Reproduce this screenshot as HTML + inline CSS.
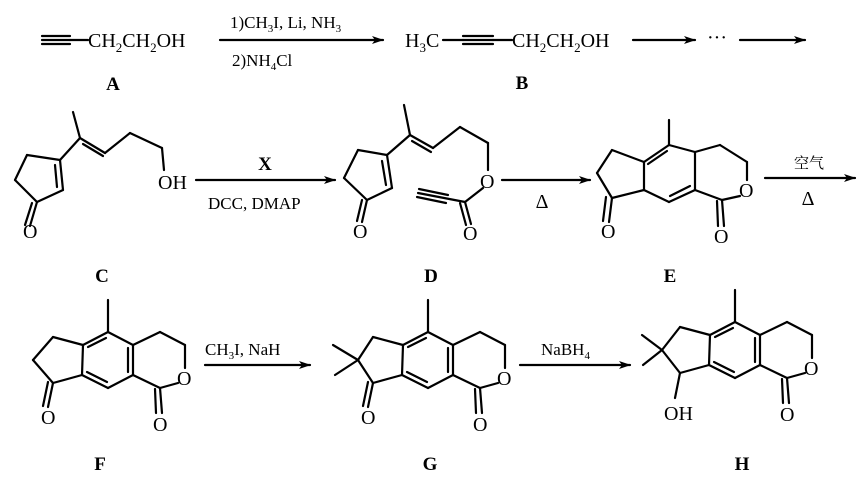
<!DOCTYPE html>
<html><head><meta charset="utf-8"><style>
body{margin:0;background:#fff}
svg{display:block}
text{font-family:"Liberation Serif","Noto Serif CJK SC",serif;fill:#000}
</style></head><body>
<svg width="864" height="478" viewBox="0 0 864 478" xmlns="http://www.w3.org/2000/svg">
<defs><marker id="ar" markerWidth="12" markerHeight="8" refX="11" refY="4" orient="auto" markerUnits="userSpaceOnUse"><path d="M0,0 L12,4 L0,8 L3,4z" fill="#000"/></marker></defs>
<g stroke="#000" stroke-width="2.2" fill="none" stroke-linecap="round">
<!-- Row 1 -->
<line x1="42" y1="36" x2="70" y2="36"/><line x1="42" y1="40" x2="70" y2="40"/><line x1="42" y1="44" x2="70" y2="44"/><line x1="70" y1="40" x2="88" y2="40"/>
<line x1="220" y1="40" x2="383" y2="40" marker-end="url(#ar)"/>
<line x1="443" y1="40" x2="463" y2="40"/>
<line x1="463" y1="36" x2="493" y2="36"/><line x1="463" y1="40" x2="493" y2="40"/><line x1="463" y1="44" x2="493" y2="44"/>
<line x1="493" y1="40" x2="512" y2="40"/>
<line x1="633" y1="40" x2="695" y2="40" marker-end="url(#ar)"/>
<line x1="740" y1="40" x2="805" y2="40" marker-end="url(#ar)"/>
<!-- C -->
<line x1="73" y1="112" x2="80" y2="138"/>
<line x1="80" y1="138" x2="60" y2="160"/>
<line x1="60" y1="160" x2="63" y2="190"/><line x1="55" y1="165" x2="57" y2="187"/>
<line x1="63" y1="190" x2="37" y2="202"/>
<line x1="37" y1="202" x2="15" y2="180"/><line x1="15" y1="180" x2="27" y2="155"/><line x1="27" y1="155" x2="60" y2="160"/>
<line x1="37" y1="202" x2="30" y2="226"/><line x1="32" y1="203" x2="25" y2="225"/>
<line x1="80" y1="138" x2="105" y2="153"/><line x1="83" y1="144" x2="103" y2="156"/>
<line x1="105" y1="153" x2="130" y2="133"/><line x1="130" y1="133" x2="162" y2="148"/><line x1="162" y1="148" x2="164" y2="170"/>
<line x1="196" y1="180" x2="335" y2="180" marker-end="url(#ar)"/>
<!-- D -->
<line x1="404" y1="105" x2="410" y2="135"/>
<line x1="410" y1="135" x2="387" y2="155"/>
<line x1="387" y1="155" x2="392" y2="188"/><line x1="382" y1="161" x2="386" y2="185"/>
<line x1="392" y1="188" x2="367" y2="200"/>
<line x1="367" y1="200" x2="344" y2="178"/><line x1="344" y1="178" x2="358" y2="150"/><line x1="358" y1="150" x2="387" y2="155"/>
<line x1="367" y1="200" x2="362" y2="222"/><line x1="362" y1="200" x2="357" y2="221"/>
<line x1="410" y1="135" x2="433" y2="148"/><line x1="412" y1="141" x2="431" y2="152"/>
<line x1="433" y1="148" x2="460" y2="127"/><line x1="460" y1="127" x2="488" y2="143"/><line x1="488" y1="143" x2="488" y2="170"/>
<line x1="483" y1="188" x2="465" y2="202"/>
<line x1="465" y1="202" x2="418" y2="193"/><line x1="448" y1="195" x2="419" y2="189"/><line x1="446" y1="203" x2="417" y2="197"/>
<line x1="465" y1="202" x2="471" y2="224"/><line x1="460" y1="203" x2="466" y2="225"/>
<line x1="502" y1="180" x2="590" y2="180" marker-end="url(#ar)"/>
<!-- E -->
<line x1="669" y1="120" x2="669" y2="145"/>
<line x1="669" y1="145" x2="644" y2="162"/><line x1="667" y1="151" x2="648" y2="164"/>
<line x1="644" y1="162" x2="644" y2="190"/><line x1="644" y1="190" x2="669" y2="202"/>
<line x1="669" y1="202" x2="695" y2="190"/><line x1="670" y1="196" x2="690" y2="186"/>
<line x1="695" y1="190" x2="695" y2="152"/><line x1="695" y1="152" x2="669" y2="145"/>
<line x1="644" y1="162" x2="612" y2="150"/><line x1="612" y1="150" x2="597" y2="173"/><line x1="597" y1="173" x2="612" y2="198"/><line x1="612" y1="198" x2="644" y2="190"/>
<line x1="612" y1="198" x2="609" y2="222"/><line x1="606" y1="197" x2="603" y2="221"/>
<line x1="695" y1="152" x2="720" y2="145"/><line x1="720" y1="145" x2="747" y2="162"/><line x1="747" y1="162" x2="747" y2="180"/>
<line x1="740" y1="196" x2="722" y2="200"/><line x1="722" y1="200" x2="695" y2="190"/>
<line x1="722" y1="200" x2="724" y2="226"/><line x1="717" y1="201" x2="718" y2="226"/>
<line x1="765" y1="178" x2="855" y2="178" marker-end="url(#ar)"/>
<!-- F G H -->
<g id="tri">
<line x1="108" y1="300" x2="108" y2="332"/>
<line x1="108" y1="332" x2="83" y2="345"/><line x1="106" y1="338" x2="88" y2="347"/>
<line x1="83" y1="345" x2="82" y2="375"/>
<line x1="82" y1="375" x2="108" y2="388"/><line x1="87" y1="372" x2="107" y2="382"/>
<line x1="108" y1="388" x2="133" y2="375"/>
<line x1="133" y1="375" x2="133" y2="345"/><line x1="128" y1="372" x2="128" y2="348"/>
<line x1="133" y1="345" x2="108" y2="332"/>
<line x1="83" y1="345" x2="53" y2="337"/><line x1="53" y1="383" x2="82" y2="375"/>
<line x1="133" y1="345" x2="160" y2="332"/><line x1="160" y1="332" x2="185" y2="345"/><line x1="185" y1="345" x2="185" y2="368"/>
<line x1="178" y1="383" x2="160" y2="388"/><line x1="160" y1="388" x2="133" y2="375"/>
<line x1="160" y1="388" x2="162" y2="413"/><line x1="155" y1="389" x2="156" y2="413"/>
</g>
<line x1="53" y1="383" x2="48" y2="407"/><line x1="48" y1="382" x2="43" y2="406"/>
<line x1="53" y1="337" x2="33" y2="360"/><line x1="33" y1="360" x2="53" y2="383"/>
<use href="#tri" transform="translate(320,0)"/>
<line x1="373" y1="383" x2="368" y2="407"/><line x1="368" y1="382" x2="363" y2="406"/>
<line x1="373" y1="337" x2="358" y2="360"/><line x1="358" y1="360" x2="373" y2="383"/>
<line x1="358" y1="360" x2="333" y2="345"/><line x1="358" y1="360" x2="335" y2="375"/>
<use href="#tri" transform="translate(627,-10)"/>
<line x1="680" y1="327" x2="662" y2="350"/><line x1="662" y1="350" x2="680" y2="373"/>
<line x1="662" y1="350" x2="642" y2="335"/><line x1="662" y1="350" x2="643" y2="365"/>
<line x1="680" y1="373" x2="675" y2="398"/>
<line x1="205" y1="365" x2="310" y2="365" marker-end="url(#ar)"/>
<line x1="520" y1="365" x2="630" y2="365" marker-end="url(#ar)"/>
</g>
<g font-size="20">
<text x="88" y="47">CH<tspan font-size="13" dy="5">2</tspan><tspan dy="-5">CH</tspan><tspan font-size="13" dy="5">2</tspan><tspan dy="-5">OH</tspan></text>
<text x="405" y="47">H<tspan font-size="13" dy="5">3</tspan><tspan dy="-5">C</tspan></text>
<text x="512" y="47">CH<tspan font-size="13" dy="5">2</tspan><tspan dy="-5">CH</tspan><tspan font-size="13" dy="5">2</tspan><tspan dy="-5">OH</tspan></text>
<text x="707" y="44">···</text>
<text x="158" y="189">OH</text>
<text x="23" y="238">O</text><text x="353" y="238">O</text><text x="480" y="188">O</text><text x="463" y="240">O</text>
<text x="601" y="238">O</text><text x="739" y="197">O</text><text x="714" y="243">O</text>
<text x="41" y="424">O</text><text x="177" y="385">O</text><text x="153" y="431">O</text>
<text x="361" y="424">O</text><text x="497" y="385">O</text><text x="473" y="431">O</text>
<text x="664" y="420">OH</text><text x="804" y="375">O</text><text x="780" y="421">O</text>
</g>
<g font-size="17">
<text x="230" y="28">1)CH<tspan font-size="11" dy="4">3</tspan><tspan dy="-4">I, Li, NH</tspan><tspan font-size="11" dy="4">3</tspan></text>
<text x="232" y="66">2)NH<tspan font-size="11" dy="4">4</tspan><tspan dy="-4">Cl</tspan></text>
<text x="208" y="209">DCC, DMAP</text>
<text x="205" y="355">CH<tspan font-size="11" dy="4">3</tspan><tspan dy="-4">I, NaH</tspan></text>
<text x="541" y="355">NaBH<tspan font-size="11" dy="4">4</tspan></text>
<text x="794" y="168" font-size="15">空气</text>
</g>
<g font-size="19" font-weight="bold" text-anchor="middle">
<text x="113" y="90">A</text><text x="522" y="89">B</text>
<text x="265" y="170">X</text>
<text x="102" y="282">C</text><text x="431" y="282">D</text><text x="670" y="282">E</text>
<text x="100" y="470">F</text><text x="430" y="470">G</text><text x="742" y="470">H</text>
</g>
<g font-size="20" text-anchor="middle">
<text x="542" y="208">Δ</text><text x="808" y="205">Δ</text>
</g>
</svg>
</body></html>
